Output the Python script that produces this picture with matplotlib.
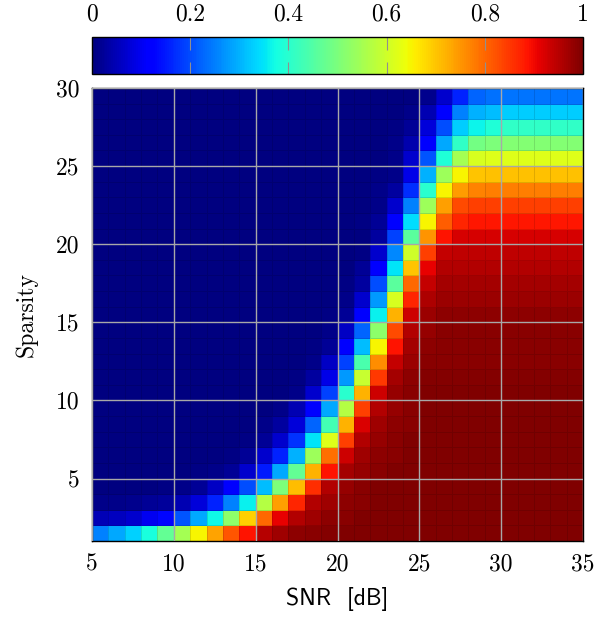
import numpy as np
import matplotlib
matplotlib.use("Agg")
import matplotlib.pyplot as plt

plt.rcParams['font.family'] = 'cmr10'
plt.rcParams['axes.formatter.use_mathtext'] = True

# cell edges: SNR 5..35 dB (1 dB per column), sparsity 1..30 (one row per level)
snr_edges = list(range(5, 36))
sparsity_edges = list(range(1, 31))

x_ticks = [5, 10, 15, 20, 25, 30, 35]
y_ticks = [5, 10, 15, 20, 25, 30]
cbar_ticks = [0, 0.2, 0.4, 0.6, 0.8, 1]
cbar_labels = ['0', '0.2', '0.4', '0.6', '0.8', '1']

# success rate, one row per sparsity level, bottom (sparsity 1) first
success = [
    [0.25, 0.29, 0.33, 0.38, 0.47, 0.55, 0.65, 0.735, 0.82, 0.89, 0.95, 0.97, 0.985, 0.99, 0.995, 1, 1, 1, 1, 1, 1, 1, 1, 1, 1, 1, 1, 1, 1, 1],
    [0.05, 0.055, 0.07, 0.1, 0.13, 0.21, 0.29, 0.37, 0.52, 0.69, 0.80, 0.91, 0.955, 0.97, 0.985, 0.99, 1, 1, 1, 1, 1, 1, 1, 1, 1, 1, 1, 1, 1, 1],
    [0.01, 0.01, 0.015, 0.02, 0.025, 0.045, 0.08, 0.16, 0.25, 0.36, 0.57, 0.74, 0.87, 0.955, 0.97, 0.985, 0.99, 1, 1, 1, 1, 1, 1, 1, 1, 1, 1, 1, 1, 1],
    [0, 0, 0, 0, 0.005, 0.01, 0.02, 0.06, 0.11, 0.20, 0.31, 0.50, 0.71, 0.86, 0.955, 0.98, 0.99, 1, 1, 1, 1, 1, 1, 1, 1, 1, 1, 1, 1, 1],
    [0, 0, 0, 0, 0, 0, 0.005, 0.01, 0.02, 0.07, 0.15, 0.29, 0.47, 0.72, 0.89, 0.965, 0.98, 0.99, 1, 1, 1, 1, 1, 1, 1, 1, 1, 1, 1, 1],
    [0, 0, 0, 0, 0, 0, 0, 0, 0.005, 0.02, 0.07, 0.16, 0.30, 0.54, 0.79, 0.93, 0.97, 0.985, 0.99, 1, 1, 1, 1, 1, 1, 1, 1, 1, 1, 1],
    [0, 0, 0, 0, 0, 0, 0, 0, 0, 0.005, 0.02, 0.07, 0.175, 0.35, 0.62, 0.84, 0.955, 0.98, 0.99, 1, 1, 1, 1, 1, 1, 1, 1, 1, 1, 1],
    [0, 0, 0, 0, 0, 0, 0, 0, 0, 0, 0.01, 0.03, 0.08, 0.225, 0.43, 0.72, 0.92, 0.97, 0.985, 0.99, 1, 1, 1, 1, 1, 1, 1, 1, 1, 1],
    [0, 0, 0, 0, 0, 0, 0, 0, 0, 0, 0, 0.01, 0.045, 0.12, 0.29, 0.57, 0.84, 0.955, 0.98, 0.99, 1, 1, 1, 1, 1, 1, 1, 1, 1, 1],
    [0, 0, 0, 0, 0, 0, 0, 0, 0, 0, 0, 0, 0.01, 0.07, 0.19, 0.40, 0.72, 0.93, 0.98, 0.99, 1, 1, 1, 1, 1, 1, 1, 1, 1, 1],
    [0, 0, 0, 0, 0, 0, 0, 0, 0, 0, 0, 0, 0.005, 0.03, 0.09, 0.275, 0.59, 0.85, 0.965, 0.985, 0.995, 0.995, 0.995, 0.995, 0.995, 0.995, 0.995, 0.995, 0.995, 0.995],
    [0, 0, 0, 0, 0, 0, 0, 0, 0, 0, 0, 0, 0, 0.01, 0.06, 0.19, 0.44, 0.76, 0.94, 0.975, 0.99, 0.99, 0.99, 0.99, 0.99, 0.99, 0.99, 0.99, 0.99, 0.99],
    [0, 0, 0, 0, 0, 0, 0, 0, 0, 0, 0, 0, 0, 0.005, 0.02, 0.11, 0.31, 0.65, 0.89, 0.965, 0.985, 0.99, 0.99, 0.99, 0.99, 0.99, 0.99, 0.99, 0.99, 0.99],
    [0, 0, 0, 0, 0, 0, 0, 0, 0, 0, 0, 0, 0, 0, 0.01, 0.06, 0.225, 0.52, 0.83, 0.955, 0.98, 0.99, 0.99, 0.99, 0.99, 0.99, 0.99, 0.99, 0.99, 0.99],
    [0, 0, 0, 0, 0, 0, 0, 0, 0, 0, 0, 0, 0, 0, 0.005, 0.02, 0.12, 0.36, 0.72, 0.93, 0.975, 0.985, 0.985, 0.985, 0.985, 0.985, 0.985, 0.985, 0.985, 0.985],
    [0, 0, 0, 0, 0, 0, 0, 0, 0, 0, 0, 0, 0, 0, 0, 0.01, 0.07, 0.275, 0.61, 0.87, 0.96, 0.975, 0.975, 0.975, 0.975, 0.975, 0.975, 0.975, 0.975, 0.975],
    [0, 0, 0, 0, 0, 0, 0, 0, 0, 0, 0, 0, 0, 0, 0, 0.005, 0.03, 0.20, 0.46, 0.80, 0.94, 0.965, 0.965, 0.965, 0.965, 0.965, 0.965, 0.965, 0.965, 0.965],
    [0, 0, 0, 0, 0, 0, 0, 0, 0, 0, 0, 0, 0, 0, 0, 0, 0.02, 0.12, 0.35, 0.70, 0.91, 0.955, 0.955, 0.955, 0.955, 0.955, 0.955, 0.955, 0.955, 0.955],
    [0, 0, 0, 0, 0, 0, 0, 0, 0, 0, 0, 0, 0, 0, 0, 0, 0.005, 0.07, 0.26, 0.60, 0.84, 0.94, 0.945, 0.945, 0.945, 0.945, 0.945, 0.945, 0.945, 0.945],
    [0, 0, 0, 0, 0, 0, 0, 0, 0, 0, 0, 0, 0, 0, 0, 0, 0, 0.03, 0.19, 0.46, 0.75, 0.89, 0.925, 0.925, 0.925, 0.925, 0.925, 0.925, 0.925, 0.925],
    [0, 0, 0, 0, 0, 0, 0, 0, 0, 0, 0, 0, 0, 0, 0, 0, 0.005, 0.02, 0.12, 0.34, 0.65, 0.81, 0.87, 0.885, 0.885, 0.885, 0.885, 0.885, 0.885, 0.885],
    [0, 0, 0, 0, 0, 0, 0, 0, 0, 0, 0, 0, 0, 0, 0, 0, 0, 0.01, 0.07, 0.25, 0.54, 0.74, 0.83, 0.84, 0.84, 0.84, 0.84, 0.84, 0.84, 0.84],
    [0, 0, 0, 0, 0, 0, 0, 0, 0, 0, 0, 0, 0, 0, 0, 0, 0, 0.01, 0.03, 0.17, 0.40, 0.65, 0.745, 0.77, 0.775, 0.775, 0.775, 0.775, 0.775, 0.775],
    [0, 0, 0, 0, 0, 0, 0, 0, 0, 0, 0, 0, 0, 0, 0, 0, 0, 0.005, 0.01, 0.09, 0.30, 0.54, 0.65, 0.70, 0.705, 0.705, 0.705, 0.705, 0.705, 0.705],
    [0, 0, 0, 0, 0, 0, 0, 0, 0, 0, 0, 0, 0, 0, 0, 0, 0, 0, 0.01, 0.07, 0.21, 0.39, 0.55, 0.61, 0.62, 0.62, 0.62, 0.62, 0.62, 0.62],
    [0, 0, 0, 0, 0, 0, 0, 0, 0, 0, 0, 0, 0, 0, 0, 0, 0, 0, 0.01, 0.04, 0.12, 0.29, 0.41, 0.49, 0.50, 0.51, 0.51, 0.51, 0.51, 0.51],
    [0, 0, 0, 0, 0, 0, 0, 0, 0, 0, 0, 0, 0, 0, 0, 0, 0, 0, 0.005, 0.02, 0.08, 0.20, 0.325, 0.365, 0.39, 0.41, 0.41, 0.41, 0.41, 0.41],
    [0, 0, 0, 0, 0, 0, 0, 0, 0, 0, 0, 0, 0, 0, 0, 0, 0, 0, 0, 0.01, 0.045, 0.12, 0.25, 0.30, 0.31, 0.325, 0.325, 0.325, 0.325, 0.325],
    [0, 0, 0, 0, 0, 0, 0, 0, 0, 0, 0, 0, 0, 0, 0, 0, 0, 0, 0, 0, 0.015, 0.07, 0.16, 0.225, 0.235, 0.24, 0.24, 0.24, 0.24, 0.24],
]

fig = plt.figure(figsize=(6.11, 6.17), dpi=100)
ax = fig.add_axes([92/611, 1-541/617, 491/611, 453/617])
cax = fig.add_axes([92/611, 1-74/617, 491/611, 37/617])

mesh = ax.pcolormesh(snr_edges, sparsity_edges, np.array(success), cmap='jet',
                     vmin=0, vmax=1, edgecolors=(0, 0, 0, 0.12), linewidth=0.5)
ax.set_xlim(5, 35)
ax.set_ylim(1, 30)
ax.set_xticks(x_ticks)
ax.set_yticks(y_ticks)
ax.set_xticklabels([str(v) for v in x_ticks])
ax.set_yticklabels([str(v) for v in y_ticks])
ax.grid(True, color='#a8a8a8', linewidth=1.0)
ax.set_axisbelow(False)
ax.tick_params(length=0, labelsize=17, pad=9)
for s in ax.spines.values():
    s.set_linewidth(1.0)
ax.set_xlabel('SNR  [dB]', fontfamily='cmss10', fontsize=17, labelpad=8)
ax.set_ylabel('Sparsity', fontsize=17, labelpad=13)

cb = fig.colorbar(mesh, cax=cax, orientation='horizontal', ticks=cbar_ticks)
cb.set_ticklabels(cbar_labels)
cax.tick_params(axis='x', direction='in', top=True, bottom=True, labeltop=True,
                labelbottom=False, length=9, width=0.8, color='#909090',
                labelsize=17, pad=8)
cb.outline.set_linewidth(1.0)

fig.savefig('out.png', dpi=100)
